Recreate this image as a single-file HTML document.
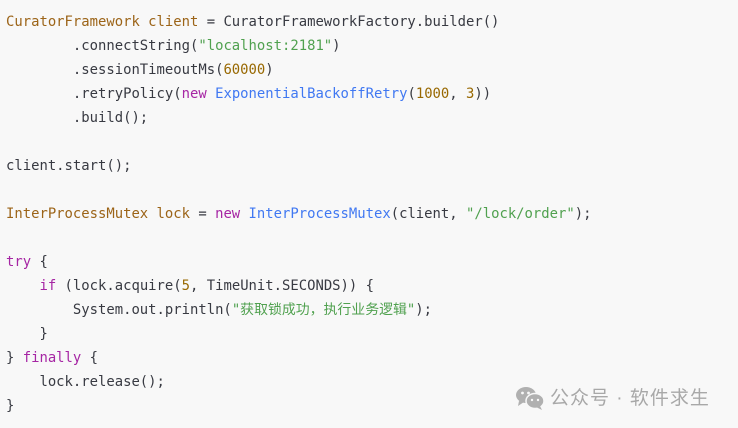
<!DOCTYPE html>
<html><head><meta charset="utf-8"><style>
html,body{margin:0;padding:0}
body{width:738px;height:428px;background:#f8f8f8;position:relative;overflow:hidden}
pre{position:absolute;left:6px;top:10px;margin:0;font-family:"DejaVu Sans Mono","Liberation Mono","Noto Sans CJK SC",monospace;font-size:13.9px;line-height:24px;color:#383a42}
.t{color:#9c6418}.n{color:#986801}.s{color:#50a14f}.k{color:#a626a4}.c{color:#4078f2}
.wm{position:absolute;left:550px;top:383px;font-family:"Liberation Sans","Noto Sans CJK SC",sans-serif;font-size:19px;color:#a8a8a8;letter-spacing:1px;white-space:nowrap}
</style></head><body>
<pre><span class="t">CuratorFramework client</span> = CuratorFrameworkFactory.builder()
        .connectString(<span class="s">"localhost:2181"</span>)
        .sessionTimeoutMs(<span class="n">60000</span>)
        .retryPolicy(<span class="k">new</span> <span class="c">ExponentialBackoffRetry</span>(<span class="n">1000</span>, <span class="n">3</span>))
        .build();

client.start();

<span class="t">InterProcessMutex lock</span> = <span class="k">new</span> <span class="c">InterProcessMutex</span>(client, <span class="s">"/lock/order"</span>);

<span class="k">try</span> {
    <span class="k">if</span> (lock.acquire(<span class="n">5</span>, TimeUnit.SECONDS)) {
        System.out.println(<span class="s">"获取锁成功，执行业务逻辑"</span>);
    }
} <span class="k">finally</span> {
    lock.release();
}</pre>
<svg style="position:absolute;left:515px;top:386px" width="30" height="24" viewBox="0 0 30 24">
<ellipse cx="11" cy="9" rx="10" ry="8" fill="#b0b0b0"/>
<path d="M4 15 L3 20 L9 16Z" fill="#b0b0b0"/>
<ellipse cx="20" cy="15" rx="9" ry="7.5" fill="#b0b0b0" stroke="#f8f8f8" stroke-width="1.5"/>
<path d="M25 20 L27 24 L21 21Z" fill="#b0b0b0"/>
<circle cx="7.5" cy="7" r="1.4" fill="#f8f8f8"/><circle cx="13.5" cy="7" r="1.4" fill="#f8f8f8"/>
<circle cx="17" cy="14" r="1.2" fill="#f8f8f8"/><circle cx="23" cy="14" r="1.2" fill="#f8f8f8"/>
</svg>
<div class="wm">公众号 · 软件求生</div>
</body></html>
